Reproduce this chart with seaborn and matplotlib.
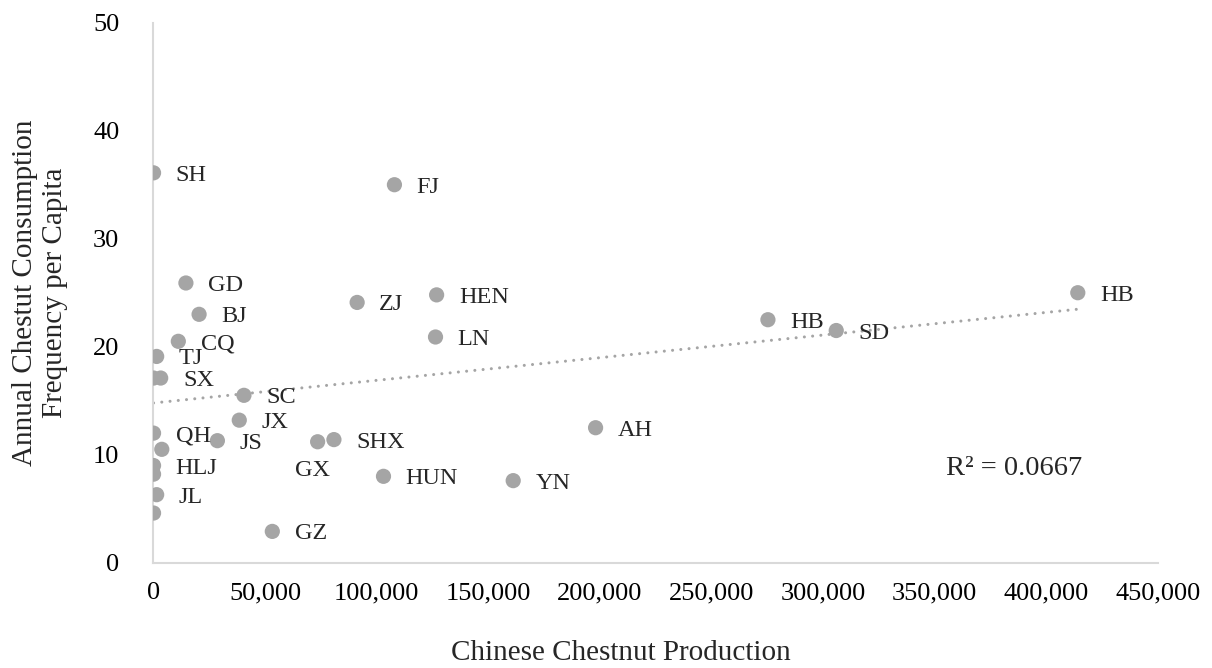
import numpy as np
import pandas as pd
import matplotlib
matplotlib.use("Agg")
import matplotlib.pyplot as plt
from matplotlib.ticker import FuncFormatter
import seaborn as sns

# --- data ---
provinces = ["SH", "FJ", "GD", "BJ", "CQ", "TJ", "", "SX", "SC", "JX",
             "QH", "JS", "", "GX", "SHX", "HLJ", "", "JL", "", "GZ",
             "ZJ", "HEN", "LN", "AH", "HUN", "YN", "HB", "SD", "HB"]
production = [100, 108000, 14600, 20500, 11200, 1500, 100, 3300, 40600, 38500,
              100, 28700, 3800, 73600, 80900, 100, 100, 1500, 100, 53300,
              91300, 126900, 126400, 198100, 103100, 161200, 275300, 305900, 414100]
consumption = [36.1, 35.0, 25.9, 23.0, 20.5, 19.1, 17.1, 17.1, 15.5, 13.2,
               12.0, 11.3, 10.5, 11.2, 11.4, 9.0, 8.2, 6.3, 4.6, 2.9,
               24.1, 24.8, 20.9, 12.5, 8.0, 7.6, 22.5, 21.5, 25.0]
r2_text = "R\u00b2 = 0.0667"

df = pd.DataFrame({"prov": provinces, "x": production, "y": consumption})

sns.set_style("white")
plt.rcParams["font.family"] = ["Liberation Serif", "DejaVu Serif"]

GREY = "#a5a5a5"
fig, ax = plt.subplots(figsize=(12.12, 6.68), dpi=100)
fig.subplots_adjust(left=0.1265, right=0.9554, top=0.966, bottom=0.1576)

sns.scatterplot(data=df, x="x", y="y", ax=ax, color=GREY, s=120,
                edgecolor="none", zorder=3)
sns.regplot(data=df, x="x", y="y", ax=ax, scatter=False, ci=None,
            line_kws=dict(color=GREY, lw=2.2, linestyle=(0, (0.01, 2.7)),
                          dash_capstyle="round"))

# point labels, right of each marker (GX sits below)
for _, r in df.iterrows():
    if not r["prov"]:
        continue
    if r["prov"] == "GX":
        ax.annotate(r["prov"], (r["x"], r["y"]), xytext=(-4, -19),
                    textcoords="offset points", ha="center", va="center_baseline",
                    fontsize=17.5)
    else:
        ax.annotate(r["prov"], (r["x"], r["y"]), xytext=(16, 0),
                    textcoords="offset points", ha="left", va="center_baseline",
                    fontsize=17.5)

ax.text(355000, 9.0, r2_text, ha="left", va="center_baseline", fontsize=20.5)

ax.set_xlim(0, 450000)
ax.set_ylim(0, 50)
ax.set_xticks(np.arange(0, 450001, 50000))
ax.set_yticks(np.arange(0, 51, 10))
ax.xaxis.set_major_formatter(FuncFormatter(lambda v, p: f"{int(v):,}"))

for side in ["top", "right"]:
    ax.spines[side].set_visible(False)
for side in ["left", "bottom"]:
    ax.spines[side].set_color("#d9d9d9")
    ax.spines[side].set_linewidth(1.5)
ax.tick_params(axis="both", which="major", direction="out", color="#d9d9d9",
               width=1.5, labelsize=19, labelcolor="black")
ax.tick_params(axis="x", length=6, pad=8)
ax.tick_params(axis="y", length=6, pad=18.5)

ax.set_xlabel("Chinese Chestnut Production", fontsize=21)
ax.xaxis.set_label_coords(0.465, -0.143)
ax.set_ylabel("Annual Chestut Consumption\nFrequency per Capita", fontsize=21,
              labelpad=18)

fig.savefig("out.png", dpi=100)
